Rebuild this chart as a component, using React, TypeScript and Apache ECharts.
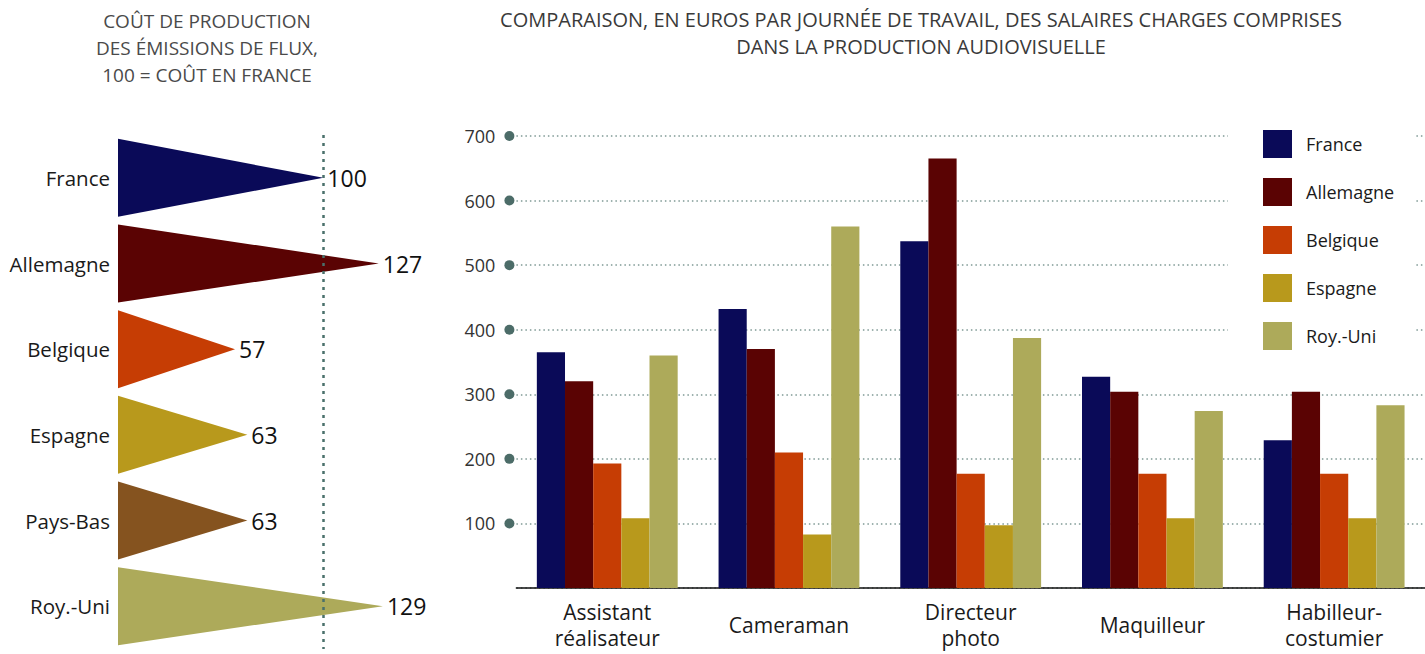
import React, { useEffect, useRef } from "react";
import * as echarts from "echarts";

// ---- Data ----
const jobs = ["Assistant\nréalisateur", "Cameraman", "Directeur\nphoto", "Maquilleur", "Habilleur-\ncostumier"];
const seriesNames = ["France", "Allemagne", "Belgique", "Espagne", "Roy.-Uni"];
const france = [365, 432, 537, 327, 229];
const allemagne = [320, 370, 665, 304, 304];
const belgique = [193, 210, 177, 177, 177];
const espagne = [108, 83, 97, 108, 108];
const royUni = [360, 560, 387, 274, 283];
const yMin = 0;
const yMax = 700;
const yInterval = 100;

const costCountries = ["France", "Allemagne", "Belgique", "Espagne", "Pays-Bas", "Roy.-Uni"];
const costIndex = [100, 127, 57, 63, 63, 129];
const referenceIndex = 100;

const leftTitle = "COÛT DE PRODUCTION\nDES ÉMISSIONS DE FLUX,\n100 = COÛT EN FRANCE";
const rightTitle = "COMPARAISON, EN EUROS PAR JOURNÉE DE TRAVAIL, DES SALAIRES CHARGES COMPRISES\nDANS LA PRODUCTION AUDIOVISUELLE";

// ---- Styles ----
const barColors = ["#0a0a58", "#5a0303", "#c63d04", "#b8991c", "#adaa5a"];
const costColors = ["#0a0a58", "#5a0303", "#c63d04", "#b8991c", "#85531f", "#adaa5a"];
const FONT = "'Open Sans', 'Noto Sans', sans-serif";

export default function App() {
  const ref = useRef<HTMLDivElement>(null);

  useEffect(() => {
    document.body.style.margin = "0";
    if (!ref.current) return;
    const chart = echarts.init(ref.current, undefined, { renderer: "svg" });
    const barData = [france, allemagne, belgique, espagne, royUni];

    const option: any = {
      animation: false,
      backgroundColor: "#ffffff",
      textStyle: { fontFamily: FONT },
      graphic: [
        {
          type: "text",
          x: 207,
          y: 48,
          style: {
            text: leftTitle,
            fontFamily: FONT,
            fontSize: 19,
            lineHeight: 27,
            fill: "#4a4a4a",
            align: "center",
            verticalAlign: "middle",
          },
        },
        {
          type: "text",
          x: 921,
          y: 33,
          style: {
            text: rightTitle,
            fontFamily: FONT,
            fontSize: 20,
            lineHeight: 27,
            fill: "#3a3a3a",
            align: "center",
            verticalAlign: "middle",
          },
        },
      ],
      legend: {
        orient: "vertical",
        left: 1228,
        top: 120,
        padding: [10, 20, 12, 35],
        backgroundColor: "#ffffff",
        itemWidth: 29,
        itemHeight: 28,
        itemGap: 20,
        icon: "rect",
        data: seriesNames,
        textStyle: { fontFamily: FONT, fontSize: 18, color: "#1a1a1a", padding: [0, 0, 0, 9] },
      },
      grid: [
        { left: 516.4, top: 136, width: 916.6, height: 452 },
        { left: 118, top: 135, width: 308, height: 514 },
      ],
      xAxis: [
        {
          type: "category",
          gridIndex: 0,
          data: jobs,
          axisLine: { lineStyle: { color: "#111", width: 1.5 } },
          axisTick: { show: false },
          axisLabel: {
            fontFamily: FONT,
            fontSize: 21,
            lineHeight: 26,
            color: "#1a1a1a",
            margin: 37,
            verticalAlign: "middle",
            interval: 0,
          },
        },
        {
          type: "value",
          gridIndex: 1,
          min: 0,
          max: 150,
          show: false,
          splitLine: { show: false },
        },
      ],
      yAxis: [
        {
          type: "value",
          gridIndex: 0,
          min: yMin,
          max: yMax,
          interval: yInterval,
          axisLine: { show: false },
          axisTick: { show: false },
          axisLabel: {
            margin: 2,
            formatter: (v: number) => (v === 0 ? "" : `{v|${v}}{d|}`),
            rich: {
              v: { fontFamily: FONT, fontSize: 18, color: "#333", padding: [0, 9, 0, 0] },
              d: { width: 10, height: 10, borderRadius: 5, backgroundColor: "#4c6c68" },
            },
          },
          splitLine: { lineStyle: { color: "#7f9995", width: 1.5, type: [1.5, 3] } },
        },
        {
          type: "category",
          gridIndex: 1,
          inverse: true,
          data: costCountries,
          axisLine: { show: false },
          axisTick: { show: false },
          axisLabel: { fontFamily: FONT, fontSize: 20.5, color: "#1a1a1a", margin: 8 },
        },
      ],
      series: [
        ...seriesNames.map((name, i) => ({
          name,
          type: "bar",
          xAxisIndex: 0,
          yAxisIndex: 0,
          data: barData[i],
          barGap: "0%",
          barCategoryGap: "22.5%",
          itemStyle: { color: barColors[i] },
        })),
        {
          type: "custom",
          xAxisIndex: 1,
          yAxisIndex: 1,
          data: costCountries.map((c, i) => [costIndex[i], i]),
          encode: { x: 0, y: 1 },
          renderItem: (params: any, api: any) => {
            const v = api.value(0);
            const idx = api.value(1);
            const tip = api.coord([v, idx]);
            const base = api.coord([0, idx]);
            const band = api.size([0, 1])[1];
            const h = band * 0.91;
            return {
              type: "group",
              children: [
                {
                  type: "polygon",
                  shape: {
                    points: [
                      [base[0], tip[1] - h / 2],
                      [base[0], tip[1] + h / 2],
                      [tip[0], tip[1]],
                    ],
                  },
                  style: { fill: costColors[params.dataIndex] },
                },
                {
                  type: "text",
                  x: tip[0] + 4,
                  y: tip[1],
                  style: {
                    text: String(v),
                    fontFamily: FONT,
                    fontSize: 23,
                    fill: "#111",
                    align: "left",
                    verticalAlign: "middle",
                  },
                },
              ],
            };
          },
        },
        {
          type: "scatter",
          xAxisIndex: 1,
          yAxisIndex: 1,
          data: [],
          z: 5,
          markLine: {
            silent: true,
            symbol: ["none", "none"],
            label: { show: false },
            lineStyle: { color: "#4a706b", width: 2.5, type: [3, 5] },
            data: [{ xAxis: referenceIndex }],
          },
        },
      ],
    };

    chart.setOption(option);
    return () => chart.dispose();
  }, []);

  return <div ref={ref} style={{ width: 1425, height: 654 }} />;
}
